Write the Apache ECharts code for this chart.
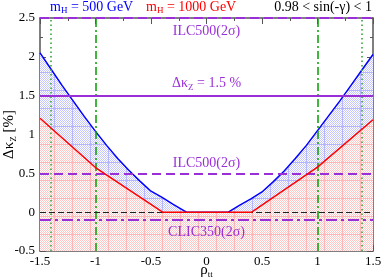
<!DOCTYPE html>
<html>
<head>
<meta charset="utf-8">
<script src="https://cdn.jsdelivr.net/npm/echarts@6/dist/echarts.min.js"></script>
<style>html,body{margin:0;padding:0;background:#fff}#c{width:382px;height:280px}</style>
</head>
<body>
<div id="c"></div>
<script>
// ---- data ----
const blueRho = [-1.5,-1.4,-1.3,-1.2,-1.1,-1.0,-0.9,-0.8,-0.7,-0.6,-0.5,-0.4,-0.3,-0.2,-0.18,0.196,0.3,0.4,0.5,0.6,0.7,0.8,0.9,1.0,1.1,1.2,1.3,1.4,1.5];
const blueVal = [2.05,1.84,1.63,1.43,1.23,1.04,0.86,0.69,0.54,0.40,0.27,0.19,0.10,0.017,0,0,0.09,0.17,0.26,0.39,0.53,0.69,0.86,1.05,1.24,1.43,1.63,1.83,2.03];
const redRho = [-1.5,-1.0,-0.395,0.407,1.0,1.5];
const redVal = [1.21,0.575,0,0,0.58,1.19];
const xTicks = [-1.5,-1,-0.5,0,0.5,1,1.5];
const yTicks = [-0.5,0,0.5,1,1.5,2,2.5];
const limitSolid = 1.5;      // Δκ_Z = 1.5 %
const ilcTop = 2.5;          // ILC500(2σ) top
const ilcLow = 0.5;          // ILC500(2σ)
const clic = -0.1;           // CLIC350(2σ)
const zeroLine = 0;
const dashDotX = [-1, 1];
const dottedX = [-1.4, 1.4];

const serif = 'Liberation Serif, Times New Roman, serif';
const purple = '#9a2fd8';

function makePattern(dot, line) {
  const c = document.createElement('canvas');
  c.width = 18; c.height = 18;
  const g = c.getContext('2d');
  g.fillStyle = '#fff'; g.fillRect(0,0,18,18);
  g.fillStyle = dot;
  for (let y=0;y<18;y++) for (let x=0;x<18;x++) if ((x+y)%2===0) g.fillRect(x,y,1,1);
  g.fillStyle = line;
  g.fillRect(0,0,18,1); g.fillRect(0,0,1,18);
  return {image: c, repeat: 'repeat'};
}
const redPat = makePattern('#ffc6c6', '#ffb6b6');
const bluePat = makePattern('#c6c6ff', '#b6b6ff');

const pairs = (xs, ys) => xs.map((x,i)=>[x, ys[i]]);

const axisFont = {fontFamily: serif, fontSize: 13, color: '#000'};
const lineCol = '#555';
const axLine = {show: true, onZero: false, lineStyle: {color: lineCol, width: 1.5}};

const chart = echarts.init(document.getElementById('c'), null, {renderer:'canvas'});
chart.setOption({
  animation: false,
  grid: {left: 40, right: 9, top: 18, bottom: 29, containLabel: false, outerBoundsMode: 'none'},
  xAxis: [{
    type: 'value', min: -1.5, max: 1.5, interval: 0.5, position: 'bottom',
    axisLine: axLine,
    axisTick: {inside: true, length: 6, lineStyle: {color: lineCol}},
    minorTick: {show: true, splitNumber: 2, length: 3, lineStyle: {color: lineCol}},
    splitLine: {show: false},
    axisLabel: Object.assign({margin: 4, formatter: v => String(v)}, axisFont),
    name: '{a|ρ}{s|tt}', nameLocation: 'middle', nameGap: 11, nameMoveOverlap: false,
    nameTextStyle: {rich: {a: {fontFamily: serif, fontSize: 15, color:'#000'}, s: {fontFamily: serif, fontSize: 9, color:'#000', padding:[8,0,0,0]}}}
  }, {
    type: 'value', min: -1.5, max: 1.5, interval: 0.5, position: 'top',
    axisLine: axLine,
    axisTick: {inside: true, length: 6, lineStyle: {color: lineCol}},
    minorTick: {show: true, splitNumber: 2, length: 3, lineStyle: {color: lineCol}},
    splitLine: {show: false}, axisLabel: {show: false}
  }],
  yAxis: [{
    type: 'value', min: -0.5, max: 2.5, interval: 0.5, position: 'left',
    axisLine: axLine,
    axisTick: {show: true, inside: true, length: 6, lineStyle: {color: lineCol}},
    minorTick: {show: true, splitNumber: 2, length: 3, lineStyle: {color: lineCol}},
    splitLine: {show: false},
    axisLabel: Object.assign({margin: 5, formatter: v => String(v)}, axisFont),
    name: '{a|Δκ}{s|Z}{a| [%]}', nameLocation: 'middle', nameGap: 22, nameMoveOverlap: false,
    nameTextStyle: {rich: {a: {fontFamily: serif, fontSize: 15, color:'#000'}, s: {fontFamily: serif, fontSize: 9, color:'#000', padding:[8,0,0,0]}}}
  }, {
    type: 'value', min: -0.5, max: 2.5, interval: 0.5, position: 'right',
    axisLine: axLine,
    axisTick: {show: true, inside: true, length: 6, lineStyle: {color: lineCol}},
    minorTick: {show: true, splitNumber: 2, length: 3, lineStyle: {color: lineCol}},
    splitLine: {show: false}, axisLabel: {show: false}
  }],
  graphic: [
    {type:'text', left: 50, top: 0, style: {text: '{a|m}{s|H}{a| = 500 GeV}', rich: {a:{fontFamily: serif, fontSize: 14, fill:'#0000ff'}, s:{fontFamily: serif, fontSize: 9, fill:'#0000ff', padding:[7,0,0,0]}}}},
    {type:'text', left: 146, top: 0, style: {text: '{a|m}{s|H}{a| = 1000 GeV}', rich: {a:{fontFamily: serif, fontSize: 14, fill:'#ff0000'}, s:{fontFamily: serif, fontSize: 9, fill:'#ff0000', padding:[7,0,0,0]}}}},
    {type:'text', right: 10, top: 0, style: {text: '0.98 < sin(-γ) < 1', fontFamily: serif, fontSize: 14, fill:'#000'}}
  ],
  series: [
    {type:'line', name:'blueFill', data: pairs(blueRho, blueVal), showSymbol:false, lineStyle:{width:0}, areaStyle:{origin:'start', color: bluePat, opacity:1}, z:1, silent:true},
    {type:'line', name:'redFill', data: pairs(redRho, redVal), showSymbol:false, lineStyle:{width:0}, areaStyle:{origin:'start', color: redPat, opacity:1}, z:2, silent:true},
    {type:'line', name:'guides', data: [], z:3, silent:true,
      markLine: {silent:true, symbol:['none','none'], animation:false,
        data: [
          ...dashDotX.map(x => ({xAxis: x, lineStyle:{color:'#00a000', width:1.5, type:[8,3,2,3]}, label:{show:false}})),
          ...dottedX.map(x => ({xAxis: x, lineStyle:{color:'#4caf4c', width:1.8, type:[1.5,3]}, label:{show:false}})),
          {yAxis: zeroLine, lineStyle:{color:'#222', width:1, type:[6,3]}, label:{show:false}},
          {yAxis: limitSolid, lineStyle:{color: purple, width:2, type:'solid'},
            label:{show:true, position:'insideMiddleTop', distance:4, formatter:'{a|Δκ}{s|Z}{a| = 1.5 %}',
              rich:{a:{fontFamily:serif, fontSize:14, color:purple}, s:{fontFamily:serif, fontSize:9, color:purple, padding:[7,0,0,0]}}}},
          {yAxis: ilcLow, lineStyle:{color: purple, width:2, type:[9,5]},
            label:{show:true, position:'insideMiddleTop', distance:3, formatter:'ILC500(2σ)', fontFamily:serif, fontSize:14, color:purple}},
          {yAxis: ilcTop, lineStyle:{color: purple, width:2, type:[9,5]},
            label:{show:true, position:'insideMiddleBottom', distance:6, formatter:'ILC500(2σ)', fontFamily:serif, fontSize:14, color:purple}},
          {yAxis: clic, lineStyle:{color: purple, width:2, type:[11,4,3,4]},
            label:{show:true, position:'insideMiddleBottom', distance:5, formatter:'CLIC350(2σ)', fontFamily:serif, fontSize:14, color:purple}}
        ]}
    },
    {type:'line', name:'mH500', data: pairs(blueRho, blueVal), showSymbol:false, lineStyle:{color:'#0000ff', width:1.5}, z:4, silent:true},
    {type:'line', name:'mH1000', data: pairs(redRho, redVal), showSymbol:false, lineStyle:{color:'#ff0000', width:1.5}, z:5, silent:true}
  ]
});
</script>
</body>
</html>
